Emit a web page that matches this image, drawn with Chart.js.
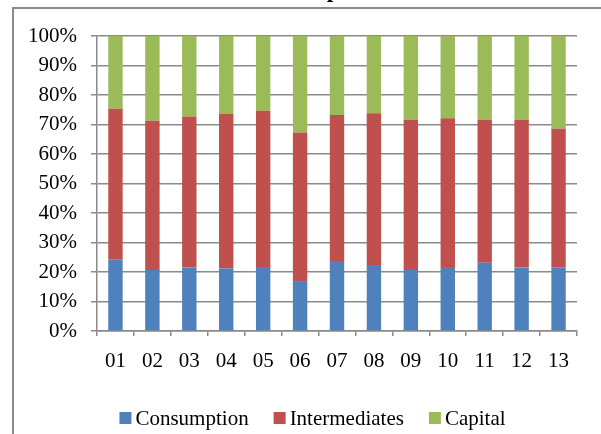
<!DOCTYPE html>
<html>
<head>
<meta charset="utf-8">
<script src="https://cdn.jsdelivr.net/npm/chart.js@4"></script>
<style>
  html, body { margin: 0; padding: 0; background: #fff; }
</style>
</head>
<body>
<canvas id="myChart" width="601" height="434"></canvas>
<script>
const years = ["01", "02", "03", "04", "05", "06", "07", "08", "09", "10", "11", "12", "13"];
const consumption = [24.3, 20.7, 21.5, 21.2, 21.7, 16.9, 23.7, 22.4, 20.7, 21.7, 23.1, 21.5, 21.6];
const intermediates = [51.0, 50.6, 51.2, 52.4, 53.0, 50.4, 49.5, 51.4, 50.9, 50.4, 48.5, 50.1, 47.0];
const capital = [24.7, 28.7, 27.3, 26.4, 25.3, 32.7, 26.8, 26.2, 28.4, 27.9, 28.4, 28.4, 31.4];
const yTicks = [0, 10, 20, 30, 40, 50, 60, 70, 80, 90, 100];
const titleText = "Sources of Imports";

const gridColor = "#8a8a8a";
const serif = "'Liberation Serif', 'Times New Roman', serif";
const fontSize = 21;

// frame, clipped title and legend drawn by hand
const decorPlugin = {
  id: "decor",
  afterDraw(chart) {
    const ctx = chart.ctx;
    ctx.save();
    ctx.strokeStyle = gridColor;
    ctx.lineWidth = 2;
    ctx.strokeRect(13, 8, 700, 700);

    ctx.fillStyle = "#000";
    ctx.font = "bold 24px " + serif;
    ctx.textAlign = "right";
    ctx.textBaseline = "alphabetic";
    ctx.fillText(titleText, 380, -3);

    // legend
    ctx.font = fontSize + "px " + serif;
    ctx.textAlign = "left";
    ctx.textBaseline = "middle";
    const box = 12, gap = 4, spacing = 25;
    const items = chart.data.datasets.map(ds => ({
      label: ds.label, color: ds.backgroundColor,
      w: box + gap + ctx.measureText(ds.label).width
    }));
    const total = items.reduce((a, it) => a + it.w, 0) + spacing * (items.length - 1);
    let x = 312.5 - total / 2;
    const cy = 418;
    items.forEach(it => {
      ctx.fillStyle = it.color;
      ctx.fillRect(x, cy - box / 2, box, box);
      ctx.fillStyle = "#000";
      ctx.fillText(it.label, x + box + gap, cy + 1);
      x += it.w + spacing;
    });
    ctx.restore();
  }
};

const myChart = new Chart("myChart", {
  type: "bar",
  data: {
    labels: years,
    datasets: [
      { label: "Consumption", data: consumption, backgroundColor: "#4f81bd" },
      { label: "Intermediates", data: intermediates, backgroundColor: "#c0504d" },
      { label: "Capital", data: capital, backgroundColor: "#9bbb59" }
    ]
  },
  options: {
    responsive: false,
    animation: false,
    devicePixelRatio: 1,
    layout: { padding: { top: 36, right: 24, left: 0, bottom: 0 } },
    datasets: { bar: { categoryPercentage: 1, barPercentage: 0.39 } },
    plugins: {
      legend: { display: false },
      tooltip: { enabled: false }
    },
    scales: {
      x: {
        stacked: true,
        grid: { offset: true, drawOnChartArea: false, color: gridColor, lineWidth: 1.5, tickLength: 5 },
        border: { color: gridColor, width: 1.5 },
        ticks: { color: "#000", font: { family: serif, size: fontSize }, padding: 13, maxRotation: 0 },
        afterFit: s => { s.height = 103; }
      },
      y: {
        stacked: true,
        min: 0,
        max: 100,
        afterBuildTicks: s => { s.ticks = yTicks.map(v => ({ value: v })); },
        grid: { color: gridColor, lineWidth: 1.5, tickLength: 6 },
        border: { color: gridColor, width: 1.5 },
        ticks: { color: "#000", font: { family: serif, size: fontSize }, padding: 14, callback: v => v + "%" },
        afterFit: s => { s.width = 97; }
      }
    }
  },
  plugins: [decorPlugin]
});
</script>
</body>
</html>
